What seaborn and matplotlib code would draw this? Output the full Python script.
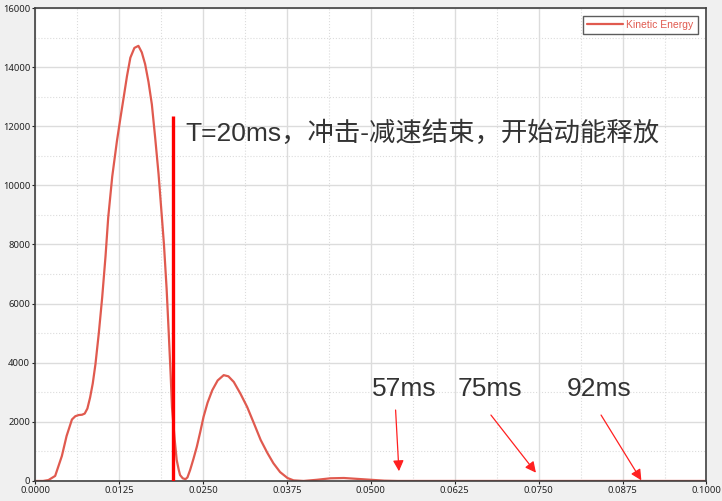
import numpy as np
import pandas as pd
import matplotlib
matplotlib.use('Agg')
import matplotlib.pyplot as plt
import seaborn as sns
from matplotlib.ticker import MultipleLocator, FormatStrFormatter

# ==========================================
# data
# ==========================================
time_s = [0.0, 0.0012, 0.0020, 0.0030, 0.0040, 0.0047, 0.0055, 0.0060, 0.0065, 0.0070,
          0.0074, 0.0078, 0.0082, 0.0086, 0.0090, 0.0095, 0.0100, 0.0105, 0.0109,
          0.0115, 0.0122, 0.0127, 0.0132, 0.0137, 0.0142, 0.0148, 0.0154, 0.0159,
          0.0164, 0.0169, 0.0174, 0.0179, 0.0184, 0.0188, 0.0192, 0.0196, 0.0199,
          0.0202, 0.0204, 0.0208, 0.0211, 0.0214, 0.0216, 0.0220, 0.0224, 0.0227,
          0.0231, 0.0236, 0.0241, 0.0246, 0.0251, 0.0257, 0.0264, 0.0272, 0.0281,
          0.0288, 0.0296, 0.0306, 0.0316, 0.0326, 0.0336, 0.0346, 0.0355, 0.0365,
          0.0376, 0.0385, 0.0400, 0.0420, 0.0440, 0.0460, 0.0480, 0.0500, 0.0520,
          0.0540, 0.0700, 0.1000]
kinetic_energy = [0, 0, 30, 170, 845, 1520, 2080, 2190, 2230, 2240,
                  2280, 2450, 2820, 3300, 3950, 5000, 6200, 7600, 8910,
                  10300, 11500, 12250, 12970, 13700, 14320, 14650, 14720, 14500,
                  14100, 13500, 12740, 11600, 10380, 9200, 8010, 6500, 5080,
                  3600, 2490, 1400, 710, 380, 200, 90, 60, 120,
                  370, 750, 1160, 1650, 2170, 2650, 3070, 3400, 3580,
                  3540, 3350, 2950, 2500, 1950, 1390, 950, 600, 300,
                  100, 20, 0, 40, 90, 100, 70, 40, 10,
                  0, 0, 0]

t_marker = 0.0205
t_marker_top = 12350
marker_text = 'T=20ms，冲击-减速结束，开始动能释放'

arrow_labels = ['57ms', '75ms', '92ms']
label_x = [0.0550, 0.0678, 0.0840]
label_y = [3100, 3100, 3100]
arrow_tail_x = [0.0537, 0.0679, 0.0843]
arrow_tail_y = [2400, 2230, 2230]
arrow_head_x = [0.0542, 0.0746, 0.0903]
arrow_head_y = [330, 280, 20]

df = pd.DataFrame({'t': time_s, 'ke': kinetic_energy})

# ==========================================
# style
# ==========================================
sns.set_style('white')
plt.rcParams['font.family'] = ['Liberation Sans', 'Noto Sans CJK SC', 'DejaVu Sans']

fig = plt.figure(figsize=(7.22, 5.01), dpi=100, facecolor='#f0f0f0')
ax = fig.add_axes([0.0485, 0.040, 0.930, 0.944])
ax.set_facecolor('white')

sns.lineplot(data=df, x='t', y='ke', ax=ax, color='#e05a4f', linewidth=1.6,
             label='Kinetic Energy')

ax.vlines(t_marker, 0, t_marker_top, color='#ff0000', linewidth=2.4, zorder=5)
ax.text(0.0224, 11780, marker_text, fontsize=19, color='#333333',
        va='center', ha='left')

for lab, lx, ly, tx, ty, hx, hy in zip(arrow_labels, label_x, label_y,
                                       arrow_tail_x, arrow_tail_y,
                                       arrow_head_x, arrow_head_y):
    ax.text(lx, ly, lab, fontsize=19, color='#333333', ha='center', va='center')
    ax.annotate('', xy=(hx, hy), xytext=(tx, ty),
                arrowprops=dict(arrowstyle='-|>', color='#ff2020', lw=0.9,
                                mutation_scale=16, shrinkA=0, shrinkB=0))

ax.set_xlim(0, 0.1)
ax.set_ylim(0, 16000)
ax.xaxis.set_major_locator(MultipleLocator(0.0125))
ax.xaxis.set_minor_locator(MultipleLocator(0.00625))
ax.xaxis.set_major_formatter(FormatStrFormatter('%.4f'))
ax.yaxis.set_major_locator(MultipleLocator(2000))
ax.yaxis.set_minor_locator(MultipleLocator(1000))

ax.grid(True, which='major', color='#dcdcdc', linewidth=1.0)
ax.grid(True, which='minor', color='#dcdcdc', linewidth=0.8, linestyle=':')
ax.set_axisbelow(True)

ax.tick_params(axis='both', which='major', labelsize=7, colors='#222222',
               length=2.5, width=0.8, direction='out', bottom=True, left=True, pad=1)
ax.tick_params(which='minor', length=0)
for lbl in ax.get_xticklabels() + ax.get_yticklabels():
    lbl.set_family(['Noto Sans'])
    lbl.set_fontsize(6.8)
for s in ax.spines.values():
    s.set_color('#404040')
    s.set_linewidth(1.2)

ax.set_xlabel('')
ax.set_ylabel('')

leg = ax.legend(loc='upper right', fontsize=7.5, frameon=True, fancybox=False,
                borderpad=0.4, handlelength=3.5, handletextpad=0.3,
                bbox_to_anchor=(0.995, 0.995))
leg.get_frame().set_edgecolor('#333333')
leg.get_frame().set_linewidth(1.0)
for txt in leg.get_texts():
    txt.set_color('#e05a4f')

fig.savefig('out.png', dpi=100, facecolor=fig.get_facecolor())
